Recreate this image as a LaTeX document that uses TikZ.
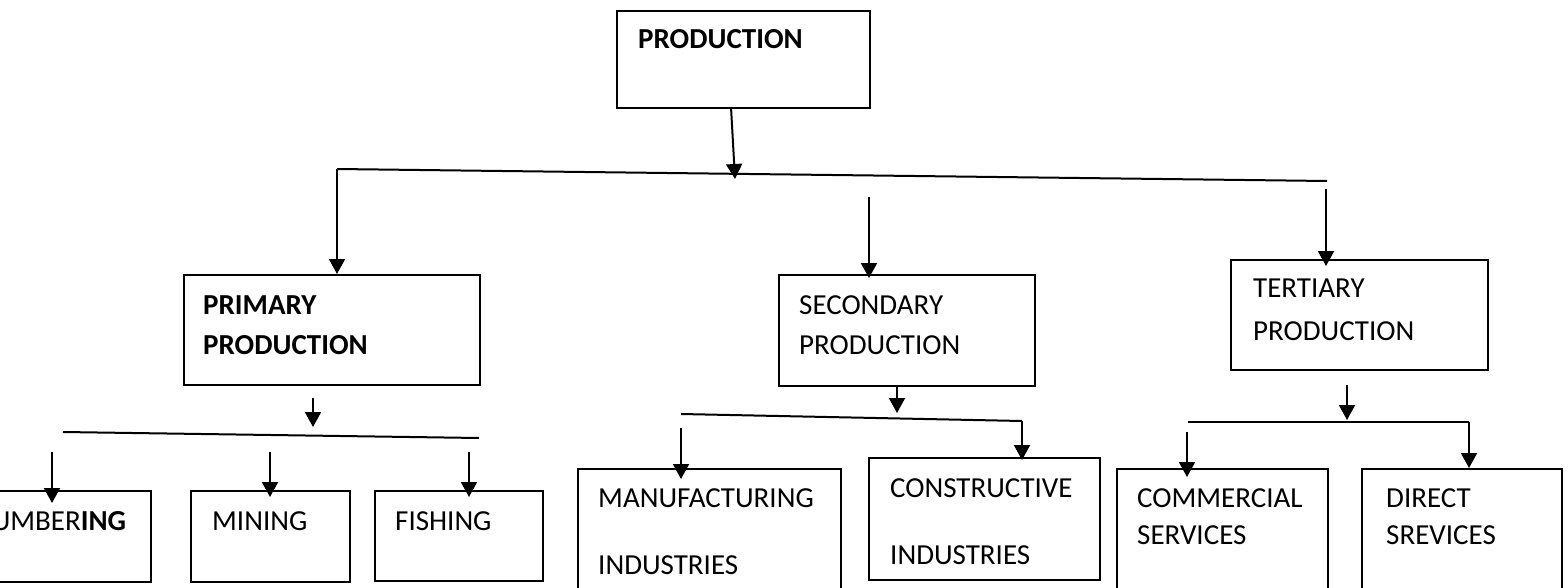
\documentclass[tikz,border=0pt]{standalone}
\usepackage{fontspec}
\setmainfont{Carlito}
\usetikzlibrary{arrows.meta}
\begin{document}
\begin{tikzpicture}[x=1pt,y=-1pt,
  box/.style={draw,line width=1.6pt,inner sep=0pt,anchor=north west},
  lbl/.style={anchor=base west,inner sep=0pt,font=\fontsize{29}{34}\selectfont},
  bl/.style={anchor=base west,inner sep=0pt,font=\fontsize{29}{34}\selectfont\bfseries},
  conn/.style={line width=2pt},
  arr/.style={conn,-{Triangle[width=16pt,length=15pt]}}]
\clip (0,0) rectangle (1568,588);
\fill[white] (0,0) rectangle (1568,588);
% boxes
\node[box,minimum width=253pt,minimum height=97pt] (prod) at (616,10) {};
\node[box,minimum width=296pt,minimum height=110pt] (prim) at (183,274) {};
\node[box,minimum width=256pt,minimum height=111pt] (sec) at (778,274) {};
\node[box,minimum width=257pt,minimum height=110pt] (ter) at (1230,259) {};
\node[box,minimum width=192pt,minimum height=91pt] (lum) at (-42,490) {};
\node[box,minimum width=159pt,minimum height=91pt] (min) at (190,490) {};
\node[box,minimum width=168pt,minimum height=90pt] (fish) at (374,490) {};
\node[box,minimum width=263pt,minimum height=132pt] (manu) at (577,468) {};
\node[box,minimum width=231pt,minimum height=122pt] (cons) at (868,457) {};
\node[box,minimum width=211pt,minimum height=132pt] (comm) at (1116,468) {};
\node[box,minimum width=200pt,minimum height=132pt] (dir) at (1361,468) {};
% texts
\node[bl] (tprod) at (638,49) {PRODUCTION};
\node[bl] (tprim1) at (203,314) {PRIMARY};
\node[bl] (tprim2) at (203,354) {PRODUCTION};
\node[lbl] (tsec1) at (799,314) {SECONDARY};
\node[lbl] (tsec2) at (799,354) {PRODUCTION};
\node[lbl] (tter1) at (1253,297) {TERTIARY};
\node[lbl] (tter2) at (1253,340) {PRODUCTION};
\node[lbl] (tlum) at (-20,530) {LUMBER\textbf{ING}};
\node[lbl] (tmin) at (212,530) {MINING};
\node[lbl] (tfish) at (395,530) {FISHING};
\node[lbl] (tmanu1) at (598,507) {MANUFACTURING};
\node[lbl] (tmanu2) at (598,574) {INDUSTRIES};
\node[lbl] (tcons1) at (890,497) {CONSTRUCTIVE};
\node[lbl] (tcons2) at (890,564) {INDUSTRIES};
\node[lbl] (tcomm1) at (1137,507) {COMMERCIAL};
\node[lbl] (tcomm2) at (1137,544) {SERVICES};
\node[lbl] (tdir1) at (1386,507) {DIRECT};
\node[lbl] (tdir2) at (1386,544) {SREVICES};
% connector points: top level
\coordinate (a0) at (731,107);
\coordinate (a1) at (735,179);
\coordinate (busL) at (337,169);
\coordinate (busR) at (1327,181);
\coordinate (primT) at (337,274);
\coordinate (s0) at (869,197);
\coordinate (secT) at (869,278);
\coordinate (t0) at (1326,189);
\coordinate (terT) at (1326,266);
\draw[arr] (a0) -- (a1);
\draw[conn] (busL) -- (busR);
\draw[arr] (busL) -- (primT);
\draw[arr] (s0) -- (secT);
\draw[arr] (t0) -- (terT);
% primary sub-level
\coordinate (pa0) at (313,398);
\coordinate (pa1) at (313,427);
\coordinate (pbL) at (63,432);
\coordinate (pbR) at (479,438);
\coordinate (l0) at (52,452);
\coordinate (l1) at (52,503);
\coordinate (m0) at (270,452);
\coordinate (m1) at (270,497);
\coordinate (f0) at (469,452);
\coordinate (f1) at (469,497);
\draw[arr] (pa0) -- (pa1);
\draw[conn] (pbL) -- (pbR);
\draw[arr] (l0) -- (l1);
\draw[arr] (m0) -- (m1);
\draw[arr] (f0) -- (f1);
% secondary sub-level
\coordinate (sa0) at (897,385);
\coordinate (sa1) at (897,413);
\coordinate (sbL) at (681,414);
\coordinate (sbR) at (1022,421);
\coordinate (sbT) at (1022,460);
\coordinate (ma0) at (681,428);
\coordinate (ma1) at (681,479);
\draw[arr] (sa0) -- (sa1);
\draw[conn] (sbL) -- (sbR);
\draw[arr] (sbR) -- (sbT);
\draw[arr] (ma0) -- (ma1);
% tertiary sub-level
\coordinate (ta0) at (1347,385);
\coordinate (ta1) at (1347,420);
\coordinate (tbL) at (1188,422);
\coordinate (tbR) at (1469,422);
\coordinate (tbT) at (1469,468);
\coordinate (ca0) at (1187,432);
\coordinate (ca1) at (1187,477);
\draw[arr] (ta0) -- (ta1);
\draw[conn] (tbL) -- (tbR);
\draw[arr] (tbR) -- (tbT);
\draw[arr] (ca0) -- (ca1);
\end{tikzpicture}
\end{document}
